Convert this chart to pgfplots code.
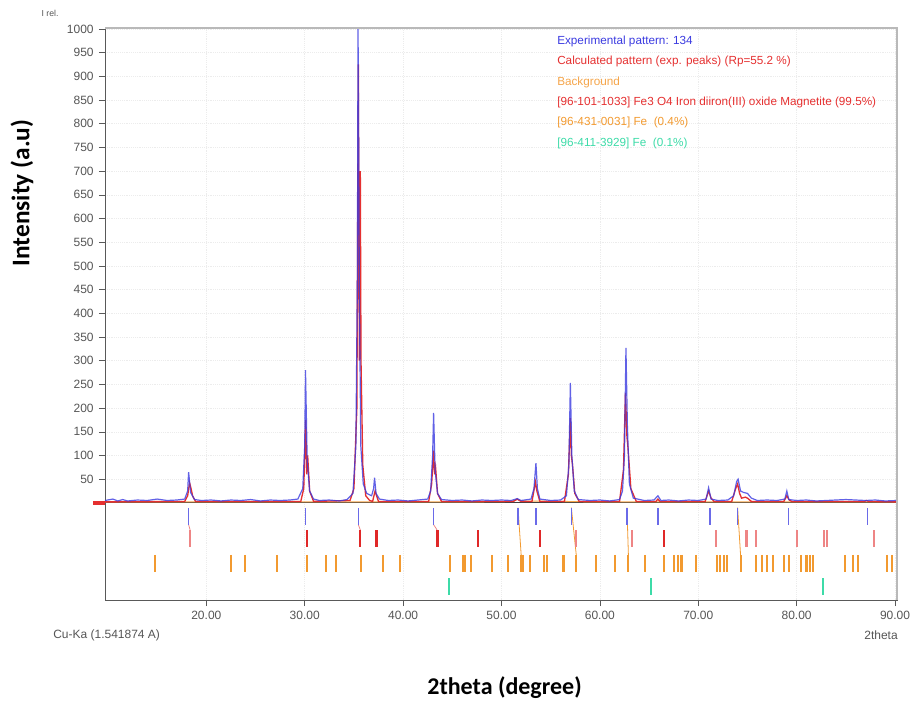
\documentclass[border=0pt]{standalone}
\usepackage{pgfplots}
\pgfplotsset{compat=1.18}
\usepackage{fontspec}
\setmainfont{Liberation Sans}
\newfontfamily\calibri{Carlito}
\definecolor{expblue}{HTML}{3A3AE0}
\definecolor{calcred}{HTML}{E53030}
\definecolor{bgorange}{HTML}{F5A54A}
\definecolor{mkred}{HTML}{E02828}
\definecolor{mkpink}{HTML}{EE8585}
\definecolor{mkblue}{HTML}{6A6AE8}
\definecolor{mkorange}{HTML}{F29A30}
\definecolor{mkgreen}{HTML}{3DDBA8}
\definecolor{txtgray}{HTML}{555555}
\begin{document}
\begin{tikzpicture}
\path[use as bounding box] (0,0) rectangle (683.25pt,-531pt);
\begin{axis}[
  at={(78.75pt,-21pt)}, anchor=north west,
  scale only axis, width=594pt, height=429pt,
  xmin=9.7, xmax=90.2, ymin=-205, ymax=1002,
  xtick={20,30,40,50,60,70,80,90},
  xticklabels={20.00,30.00,40.00,50.00,60.00,70.00,80.00,90.00},
  ytick={50,100,...,1000},
  /pgf/number format/1000 sep={},
  /pgf/number format/assume math mode=true,
  xtick pos=left, ytick pos=left,
  tick align=outside, major tick length=4.5pt,
  tick style={gray!70!black, thin},
  ticklabel style={font=\fontsize{9}{10}\selectfont, text=txtgray},
  yticklabel style={xshift=-0.5pt},
  xmajorgrids, ymajorgrids,
  grid style={gray!15, thin, densely dotted},
  axis line style={gray!70!black, thin},
  clip=true,
]
% zero line
\addplot[black!75, line width=0.6pt] coordinates {(9.7,0) (90.2,0)};
% background
\addplot[bgorange, line width=0.8pt] coordinates {(9.7,2) (20,2) (30,2) (40,2) (50,2.5) (51.3,4) (51.6,8) (51.9,4) (60,2) (70,2) (80,2) (90.2,2)};
% calculated pattern
\addplot[calcred, line width=1pt] coordinates {
(9.7,2) (17.8,3) (18.1,15) (18.3,42) (18.45,30) (18.6,15) (18.9,3)
(29.6,3) (29.9,30) (30.1,175) (30.2,60) (30.3,100) (30.5,25) (30.9,3)
(34.6,5) (35.0,30) (35.3,200) (35.45,925) (35.55,300) (35.65,700) (35.72,300) (35.9,80) (36.2,15) (36.6,5)
(36.9,3) (37.15,25) (37.3,15) (37.5,3)
(42.6,3) (42.9,40) (43.1,110) (43.2,60) (43.3,75) (43.5,20) (43.9,3)
(51.2,3) (51.6,8) (52.0,3)
(53.1,3) (53.45,44) (53.6,25) (53.9,3)
(56.4,3) (56.8,60) (57.0,179) (57.1,100) (57.2,84) (57.45,20) (57.9,3)
(62.0,3) (62.4,70) (62.6,232) (62.75,140) (62.85,118) (63.15,30) (63.7,3)
(65.7,3) (65.9,8) (66.1,3)
(70.7,3) (71.05,25) (71.3,10) (71.6,3)
(73.4,3) (73.8,30) (74.0,40) (74.2,20) (74.4,10) (74.8,12) (75.0,10) (75.4,3)
(78.7,3) (79.0,15) (79.25,6) (79.5,3)
(86.9,3) (87.1,5) (87.3,3) (90.2,2)};
% experimental pattern
\addplot[expblue, line width=0.9pt, opacity=0.8] coordinates {
(9.7,5) (10.5,8) (11,4) (11.5,7) (12,4) (13,6) (14,5) (15,8) (16,5) (17,6) (17.8,8) (18.1,25) (18.2,65) (18.4,22) (18.8,7)
(19.5,5) (20.5,6) (21.5,4) (22.5,6) (23.5,5) (24.5,7) (25.5,4) (26.5,6) (27.5,5) (28.5,6)
(29.3,8) (29.8,30) (30.0,120) (30.08,280) (30.25,90) (30.5,25) (30.9,8)
(31.5,5) (32.5,6) (33.5,4) (34.3,7) (34.9,20) (35.2,120) (35.35,470) (35.42,1000) (35.5,700) (35.55,450) (35.7,120) (35.95,40) (36.3,20) (36.8,15)
(37.0,30) (37.1,53) (37.25,20) (37.6,8)
(38.5,5) (39.5,6) (40.5,4) (41.5,6) (42.5,8) (42.8,25) (43.0,100) (43.1,190) (43.25,70) (43.5,20) (43.9,7)
(45,5) (46,6) (47,4) (48,6) (49,5) (50,6) (51,5) (51.6,9) (52,5)
(53,8) (53.3,30) (53.5,84) (53.65,30) (53.9,8)
(55,5) (56,6) (56.6,15) (56.85,80) (57.0,253) (57.15,100) (57.4,25) (57.8,7)
(59,5) (60,6) (61,4) (62,7) (62.3,25) (62.5,100) (62.65,327) (62.8,160) (63.0,40) (63.4,10)
(64.5,5) (65.5,6) (65.9,15) (66.2,5) (67,6) (68,4) (69,6) (70,5)
(70.8,8) (71.05,32) (71.3,8) (72,5) (73,6) (73.6,15) (73.9,45) (74.05,50) (74.3,25) (74.6,22) (75,20) (75.4,10)
(76,5) (77,6) (78,5) (78.8,8) (79.0,25) (79.2,7)
(80,5) (81,6) (82,4) (83,5) (84,6) (85,7) (86,6) (87,5) (88,6) (89,4) (90.2,5)};
% connector lines
\addplot[mkorange, line width=0.6pt] coordinates {(51.68,-10) (52.0,-110)};
\addplot[mkorange, line width=0.6pt] coordinates {(57.1,-10) (57.6,-110)};
\addplot[mkorange, line width=0.6pt] coordinates {(62.75,-10) (62.9,-110)};
\addplot[mkorange, line width=0.6pt] coordinates {(74.0,-10) (74.3,-110)};
\addplot[mkpink, line width=0.6pt] coordinates {(18.2,-46) (18.35,-57)};
\addplot[mkpink, line width=0.6pt] coordinates {(35.45,-46) (35.65,-57)};
\addplot[mkpink, line width=0.6pt] coordinates {(43.1,-46) (43.45,-57)};
% peak markers: experimental
\addplot[only marks, mark=|, mark size=6.4pt, mark options={mkblue, line width=0.9pt}] coordinates {
(18.2,-28.5) (30.06,-28.5) (35.45,-28.5) (43.1,-28.5) (51.68,-28.5) (53.5,-28.5) (57.1,-28.5) (62.75,-28.5) (65.9,-28.5) (71.2,-28.5) (74.0,-28.5) (79.2,-28.5) (87.2,-28.5)};
% magnetite markers
\addplot[only marks, mark=|, mark size=6.4pt, mark options={mkred, line width=1.6pt}] coordinates {
(30.2,-76) (35.6,-76) (37.3,-76) (43.5,-76) (47.6,-76) (53.9,-76) (66.5,-76)};
\addplot[only marks, mark=|, mark size=6.4pt, mark options={mkpink, line width=1.6pt}] coordinates {
(18.3,-76) (57.6,-76) (63.3,-76) (71.8,-76) (74.9,-76) (75.9,-76) (80.0,-76) (82.8,-76) (83.1,-76) (87.9,-76)};
% Fe 0.4% markers
\addplot[only marks, mark=|, mark size=6.4pt, mark options={mkorange, line width=1.6pt}] coordinates {
(14.8,-127.6) (22.5,-127.6) (23.9,-127.6) (27.2,-127.6) (30.2,-127.6) (32.2,-127.6) (33.2,-127.6) (35.7,-127.6) (38.0,-127.6) (39.7,-127.6)
(44.8,-127.6) (46.1,-127.6) (46.3,-127.6) (46.9,-127.6) (49.0,-127.6) (50.7,-127.6) (52.0,-127.6) (52.2,-127.6) (52.9,-127.6) (54.3,-127.6) (54.6,-127.6)
(56.3,-127.6) (57.6,-127.6) (59.6,-127.6) (61.5,-127.6) (62.9,-127.6) (64.6,-127.6) (66.5,-127.6) (67.5,-127.6) (67.9,-127.6) (68.3,-127.6) (69.8,-127.6)
(71.9,-127.6) (72.2,-127.6) (72.6,-127.6) (72.9,-127.6) (74.3,-127.6) (75.9,-127.6) (76.5,-127.6) (77.0,-127.6) (77.6,-127.6) (78.7,-127.6) (79.2,-127.6)
(80.4,-127.6) (81.0,-127.6) (81.4,-127.6) (81.7,-127.6) (84.9,-127.6) (85.7,-127.6) (86.2,-127.6) (89.2,-127.6) (89.7,-127.6)};
% Fe 0.1% markers
\addplot[only marks, mark=|, mark size=6.4pt, mark options={mkgreen, line width=1.6pt}] coordinates {
(44.7,-177) (65.2,-177) (82.7,-177)};
\end{axis}
% frame shadow on top and right
\draw[gray!55, line width=1.8pt] (78.75pt,-21pt) -- (672.75pt,-21pt) -- (672.75pt,-450pt);
% zero marker at left
\draw[calcred, line width=2.5pt] (69.75pt,-377.25pt) -- (78.75pt,-377.25pt);
% legend text
\begin{scope}[every node/.style={anchor=west, inner sep=0pt, font=\fontsize{8.8}{10}\selectfont}]
\node[text=expblue] at (417.75pt,-30.75pt) {Experimental pattern: 134};
\node[text=calcred] at (417.75pt,-45.75pt) {Calculated pattern (exp. peaks) (Rp=55.2 \%)};
\node[text=bgorange] at (417.75pt,-61.5pt) {Background};
\node[text=calcred] at (417.75pt,-76.5pt) {[96-101-1033] Fe3 O4 Iron diiron(III) oxide Magnetite (99.5\%)};
\node[text=mkorange] at (417.75pt,-91.5pt) {[96-431-0031] Fe\ \ (0.4\%)};
\node[text=mkgreen] at (417.75pt,-107.25pt) {[96-411-3929] Fe\ \ (0.1\%)};
\end{scope}
\node[text=txtgray, font=\fontsize{6.5}{8}\selectfont, inner sep=0pt] at (37.5pt,-9.75pt) {I rel.};
\node[text=txtgray, font=\fontsize{9}{10}\selectfont, anchor=west, inner sep=0pt] at (39.75pt,-476.25pt) {Cu-Ka (1.541874 A)};
\node[text=txtgray, font=\fontsize{9}{10}\selectfont, anchor=east, inner sep=0pt] at (673.5pt,-476.25pt) {2theta};
\node[rotate=90, font=\calibri\bfseries\fontsize{19}{22}\selectfont, inner sep=0pt] at (16.5pt,-144.75pt) {Intensity (a.u)};
\node[font=\calibri\bfseries\fontsize{18}{21}\selectfont, inner sep=0pt] at (378.4pt,-516pt) {2theta (degree)};
\end{tikzpicture}
\end{document}
